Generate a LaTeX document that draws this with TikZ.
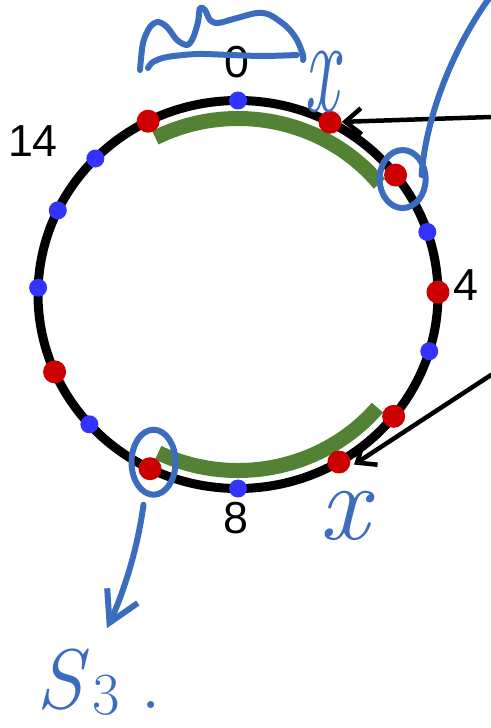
\documentclass[tikz,border=0pt]{standalone}
\usepackage{fontspec}
\newfontfamily\numfont{Liberation Sans}
\usetikzlibrary{arrows.meta,shapes.geometric}

\definecolor{dotblue}{RGB}{51,51,255}
\definecolor{dotred}{RGB}{204,0,0}
\definecolor{arcgreen}{RGB}{84,130,53}
\definecolor{penblue}{RGB}{59,108,190}

\tikzset{
  ring/.style={line width=9bp},
  bluedot/.style={circle,fill=dotblue,inner sep=0,minimum size=18bp},
  reddot/.style={circle,fill=dotred,inner sep=0,minimum size=23bp},
  greenarc/.style={draw=arcgreen,line width=15bp,line cap=butt},
  num/.style={font={\numfont\fontsize{45}{45}\selectfont},inner sep=0},
  pointer/.style={line width=4.5bp,-{Straight Barb[length=16bp,width=26bp]}},
  penline/.style={draw=penblue,line width=6bp,line cap=round,line join=round},
  penloop/.style={ellipse,draw=penblue,line width=6bp,inner sep=0},
  pentext/.style={text=penblue,inner sep=0},
}

\begin{document}
\begin{tikzpicture}[x=1bp,y=-1bp,line cap=round,line join=round]
\useasboundingbox (0,0) rectangle (491,728);
% ring
\draw[ring] (238,294.5) ellipse [x radius=200,y radius=194];
\begin{scope}[shift={(238,294.5)},yscale=-1]
% green bands
\draw[greenarc] (117:182 and 176) arc[start angle=117,end angle=39,x radius=182,y radius=176];
\draw[greenarc] (244:182 and 176) arc[start angle=244,end angle=320,x radius=182,y radius=176];
% dots on the ring
\foreach \a/\n in {90/b0,135.5/b1,154.3/b2,178/b3,222/b4,270/b5,343/b6,18.8/b7}
  \node[bluedot] (\n) at (\a:200 and 194) {};
\foreach \a/\n in {116.7/rl,62.6/rtop,38/rc,0.7/r4,203.5/rw,243.9/rs,300.3/rlow,321.1/rb}
  \node[reddot] (\n) at (\a:200 and 194) {};
\end{scope}
% numbers
\node[num] (l0) at (237,62) {0};
\node[num] (l14) at (33,141) {14};
\node[num] (l4) at (466,285) {4};
\node[num] (l8) at (236,518) {8};
% black arrows
\coordinate (ina) at (491,117);
\coordinate (inb) at (491,375);
\draw[pointer] (ina) -- (rtop);
\draw[pointer,shorten >=6bp] (inb) -- (rlow.-30);
% pen: loops round two dots
\node[penloop,minimum width=46bp,minimum height=58bp] (c1) at ([xshift=7bp,yshift=-4bp]rc) {};
\node[penloop,minimum width=44bp,minimum height=65bp] (c2) at ([xshift=3.5bp,yshift=6.5bp]rs) {};
\coordinate (out) at (490,-3);
\draw[penline] ([xshift=-7bp,yshift=4bp]c1.east) .. controls (425,125) and (448,55) .. (out);
% pen: scribble over the 0
\draw[penline] plot[smooth] coordinates {(140,70) (143,43) (150,27) (158,22) (167,27) (177,40) (187,45) (193,38) (198,22) (200,8) (205,10) (210,20) (218,23) (237,18) (257,13) (270,15) (287,27) (297,40) (303,55) (303,60)};
\draw[penline] plot[smooth] coordinates {(148,68) (153,62) (167,57) (197,54) (230,55) (263,56) (297,55)};
% pen: letters
\node[pentext,font=\fontsize{95}{95}\selectfont\itshape,xscale=0.8,yscale=1.45,transform shape] (xa) at (322,82) {x};
\node[pentext,font=\fontsize{110}{110}\selectfont\itshape] (xb) at (344,516) {x};
\node[pentext,anchor=base west,font=\fontsize{85}{85}\selectfont] (s3) at (36,708) {\textit{S}\hspace{4bp}\raisebox{-6bp}{\fontsize{60}{60}\selectfont 3}\hspace{20bp}.};
\draw[penline,-{Straight Barb[length=30bp,width=34bp]}] ([xshift=-10bp,yshift=-7bp]c2.south) .. controls (136,560) and (118,605) .. ([xshift=8bp,yshift=20bp]s3.north);
\end{tikzpicture}
\end{document}
